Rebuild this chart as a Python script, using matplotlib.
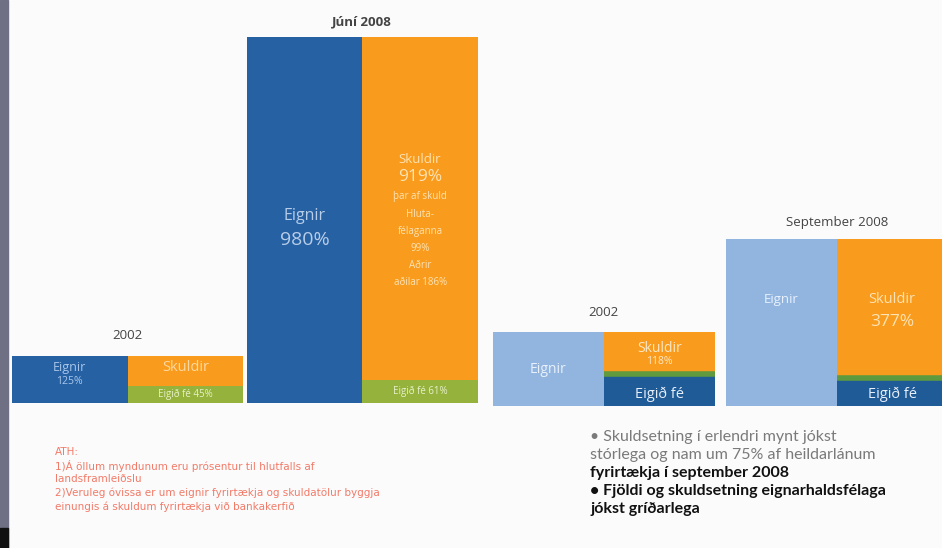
import matplotlib.pyplot as plt
from matplotlib.patches import Rectangle

# values as % of GDP
groups_left = ["2002", "Júní 2008"]
eignir_left = [125, 980]
skuldir_left = [80, 919]
eigid_fe_left = [45, 61]

groups_right = ["2002", "September 2008"]
eignir_right = [197, 447]
skuldir_right = [118, 377]
eigid_fe_right = [79, 70]

skuldir_notes = ["þar af skuld", "Hluta-", "félaganna", "99%", "Aðrir", "aðilar 186%"]

note_lines = [
    "ATH:",
    "1)Á öllum myndunum eru prósentur til hlutfalls af",
    "landsframleiðslu",
    "2)Veruleg óvissa er um eignir fyrirtækja og skuldatölur byggja",
    "einungis á skuldum fyrirtækja við bankakerfið",
]
bullet_lines = [
    ("• Skuldsetning í erlendri mynt jókst", "#7a7a7a", "normal"),
    ("stórlega og nam um 75% af heildarlánum", "#7a7a7a", "normal"),
    ("fyrirtækja í september 2008", "#111111", "bold"),
    ("• Fjöldi og skuldsetning eignarhaldsfélaga", "#111111", "bold"),
    ("jókst gríðarlega", "#111111", "bold"),
]

DARK_BLUE = "#2661a3"
LIGHT_BLUE = "#92b5df"
ORANGE = "#f99b1c"
GREEN = "#95b23c"
BAND_GREEN = "#5f9a3e"
EQ_BLUE = "#1f5b97"

plt.rcParams['font.family'] = ['Open Sans', 'DejaVu Sans']

W, H = 942, 548
fig = plt.figure(figsize=(W / 100, H / 100), dpi=100)
fig.patch.set_facecolor("#fbfbfb")

# grey strip on the left edge
fig.patches.append(Rectangle((0, 0), 8 / W, 1, transform=fig.transFigure,
                             color="#707084", zorder=0))
fig.patches.append(Rectangle((0, 0), 8 / W, 20 / H, transform=fig.transFigure,
                             color="#111111", zorder=1))

YMAX = 1050
PX = 0.3735  # pixels per percent


def make_ax(left_px, right_px, base_px):
    h = YMAX * PX
    ax = fig.add_axes([left_px / W, (H - base_px) / H, (right_px - left_px) / W, h / H])
    ax.set_ylim(0, YMAX)
    ax.axis("off")
    return ax


# left panel: dark blue assets, orange liabilities, green equity
axl = make_ax(12, 478, 403)
xl = [[0, 1], [2.03, 3.03]]
axl.set_xlim(-0.5, 3.53)
title_pad_left = [38, 24]
for i in range(2):
    xa, xs = xl[i]
    axl.bar(xa, eignir_left[i], width=1, color=DARK_BLUE, linewidth=0)
    axl.bar(xs, eigid_fe_left[i], width=1, color=GREEN, linewidth=0)
    axl.bar(xs, skuldir_left[i], bottom=eigid_fe_left[i], width=1, color=ORANGE, linewidth=0)
    axl.text(xa + 0.5, eignir_left[i] + title_pad_left[i], groups_left[i], ha="center",
             va="bottom", fontsize=9.5, color="#444444", fontweight="bold" if i else "normal")
    axl.text(xs, eigid_fe_left[i] / 2, "Eigið fé %d%%" % eigid_fe_left[i], ha="center",
             va="center", fontsize=7, color="#e8f0c8")

axl.text(0, 94, "Eignir", ha="center", va="center", fontsize=9, color="#a9c6ea")
axl.text(0, 58, "%d%%" % eignir_left[0], ha="center", va="center", fontsize=7.5, color="#a9c6ea")
axl.text(1, 95, "Skuldir", ha="center", va="center", fontsize=10.5, color="#fcd9a0")

axl.text(2.03, 500, "Eignir", ha="center", va="center", fontsize=11.5, color="#b8cde8")
axl.text(2.03, 436, "%d%%" % eignir_left[1], ha="center", va="center",
         fontsize=14, color="#b8cde8")
axl.text(3.03, 652, "Skuldir", ha="center", va="center", fontsize=9.5, color="#fde3b5")
axl.text(3.03, 604, "%d%%" % skuldir_left[1], ha="center", va="center", fontsize=12.5, color="#fde3b5")
for k, line in enumerate(skuldir_notes):
    axl.text(3.03, 552 - k * 46, line, ha="center", va="center", fontsize=7, color="#fde3b5")

# right panel: light blue assets, orange liabilities, dark blue equity
axr = make_ax(493, 942, 406)
xr = [[0, 1], [2.1, 3.1]]
axr.set_xlim(-0.5, 3.55)
title_pad_right = [35, 28]
for i in range(2):
    xa, xs = xr[i]
    axr.bar(xa, eignir_right[i], width=1, color=LIGHT_BLUE, linewidth=0)
    axr.bar(xs, eigid_fe_right[i], width=1, color=EQ_BLUE, linewidth=0)
    axr.bar(xs, skuldir_right[i], bottom=eigid_fe_right[i], width=1, color=ORANGE, linewidth=0)
    axr.plot([xs - 0.5, xs + 0.5], [eigid_fe_right[i] + 6] * 2, color=BAND_GREEN, lw=4,
             solid_capstyle="butt")
    axr.text(xa + 0.5, eignir_right[i] + title_pad_right[i], groups_right[i], ha="center",
             va="bottom", fontsize=9.5, color="#444444")
    axr.text(xs, 30, "Eigið fé", ha="center", va="center", fontsize=10.5, color="#e6eefa")

axr.text(0, 99, "Eignir", ha="center", va="center", fontsize=10, color="#e8f0fb")
axr.text(1, 153, "Skuldir", ha="center", va="center", fontsize=10, color="#fde8c4")
axr.text(1, 118, "%d%%" % skuldir_right[0], ha="center", va="center", fontsize=7.5, color="#fde8c4")
axr.text(2.1, 286, "Eignir", ha="center", va="center", fontsize=9.5, color="#e8f0fb")
axr.text(3.1, 286, "Skuldir", ha="center", va="center", fontsize=10.5, color="#fde3b5")
axr.text(3.1, 225, "%d%%" % skuldir_right[1], ha="center", va="center", fontsize=12.5, color="#fde3b5")

# footnotes
for k, line in enumerate(note_lines):
    fig.text(55 / W, 1 - (452 + k * 13.7) / H, line, ha="left", va="center",
             fontsize=7.5, color="#f27a68", family=['DejaVu Sans'])

for k, (line, col, wt) in enumerate(bullet_lines):
    fig.text(590 / W, 1 - (437 + k * 18) / H, line, ha="left", va="center",
             fontsize=11.5, color=col, fontweight=wt, family=['Lato', 'DejaVu Sans'])

fig.savefig("out.png", dpi=100, facecolor=fig.get_facecolor())
